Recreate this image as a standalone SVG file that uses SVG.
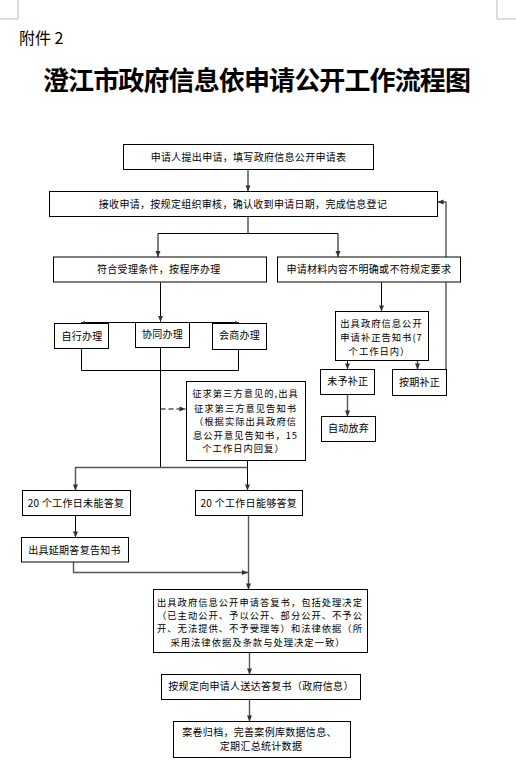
<svg xmlns="http://www.w3.org/2000/svg" width="516" height="771" viewBox="0 0 516 771">
<style>
.box{fill:#fff;stroke:#000;stroke-width:1}
.t{font-family:"Noto Sans CJK SC","Liberation Sans",sans-serif;font-size:10px;fill:#000;text-anchor:middle;letter-spacing:0.3px}
.m{font-size:9.3px;letter-spacing:1px}
.c{fill:none;stroke:#000;stroke-width:1}
.g{fill:none;stroke:#555;stroke-width:1.4}
</style>
<defs>
<marker id="a" markerUnits="userSpaceOnUse" markerWidth="8" markerHeight="8" viewBox="0 0 8 8" refX="7" refY="4" orient="auto"><path d="M1,1.5 L7,4 L1,6.5 Z" fill="#333"/></marker>
<marker id="s" markerUnits="userSpaceOnUse" markerWidth="5" markerHeight="5" viewBox="0 0 5 5" refX="4.5" refY="2.5" orient="auto"><path d="M0.5,1 L4.5,2.5 L0.5,4 Z" fill="#333"/></marker>
</defs>
<rect width="516" height="771" fill="#fff"/>
<path d="M18,0 V19 H0 M497,0 V19 H516" fill="none" stroke="#bbb" stroke-width="1"/>
<text x="19" y="43.5" style="font-family:'Noto Sans CJK SC',sans-serif;font-size:16px">附件 2</text>
<text x="43" y="90" textLength="428" lengthAdjust="spacing" style="font-family:'Noto Sans CJK SC',sans-serif;font-size:26px;font-weight:bold">澄江市政府信息依申请公开工作流程图</text>

<g id="connectors">
<path class="c" d="M248,169.5 V191.5" marker-end="url(#a)"/>
<path class="c" d="M248,216.5 V233.5"/>
<path class="c" d="M248,233.5 H158 V257" marker-end="url(#a)"/>
<path class="c" d="M248,233.5 H338 V257" marker-end="url(#a)"/>
<path class="g" d="M446,369.5 V202 H437.5" marker-end="url(#a)"/>
<path class="c" d="M160.5,282.5 V322" marker-end="url(#a)"/>
<path class="c" d="M160.5,322.5 H81" marker-end="url(#s)"/>
<path class="c" d="M160.5,322.5 H239" marker-end="url(#s)"/>
<path class="c" d="M81.5,349 V370.5 H238.5 V350"/>
<path class="c" d="M160.5,347.5 V467.5"/>
<path class="c" d="M160.5,409 H185.5" stroke-dasharray="5,3" marker-end="url(#a)"/>
<path class="g" d="M160.5,467.5 H75.5 V490.5" marker-end="url(#a)"/>
<path class="g" d="M160.5,467.5 H248"/>
<path class="c" d="M247.5,460.5 V490.5" marker-end="url(#a)"/>
<path class="c" d="M381.5,282.5 V311.5" marker-end="url(#a)"/>
<path class="c" d="M347.5,347 V369.5" marker-end="url(#a)"/>
<path class="g" d="M417.5,347 V369.5" marker-end="url(#a)"/>
<path class="g" d="M347.5,394.5 V416.5" marker-end="url(#a)"/>
<path class="c" d="M75.5,515.5 V537.5" marker-end="url(#a)"/>
<path class="g" d="M73.5,562 V572.5 H248" marker-end="url(#a)"/>
<path class="g" d="M248.5,515.5 V589.5" marker-end="url(#a)"/>
<path class="g" d="M249.5,652.5 V674.5" marker-end="url(#a)"/>
<path class="g" d="M249.5,699.5 V721.5" marker-end="url(#a)"/>
</g>

<g id="n1"><rect class="box" x="123.5" y="144.5" width="250" height="25"/><text class="t" x="248.5" y="160.5">申请人提出申请，填写政府信息公开申请表</text></g>
<g id="n2"><rect class="box" x="49.5" y="191.5" width="388" height="25"/><text class="t" x="243" y="207.5" letter-spacing="0.65">接收申请，按规定组织审核，确认收到申请日期，完成信息登记</text></g>
<g id="n3"><rect class="box" x="53.5" y="257" width="213" height="25"/><text class="t" x="158.8" y="273">符合受理条件，按程序办理</text></g>
<g id="n4"><rect class="box" x="277.5" y="257" width="183" height="25"/><text class="t" x="368.8" y="273">申请材料内容不明确或不符规定要求</text></g>
<g id="n5"><rect class="box" x="54.5" y="323.5" width="54" height="25"/><text class="t" x="82" y="339.5">自行办理</text></g>
<g id="n6"><rect class="box" x="135.5" y="322.5" width="54" height="25"/><text class="t" x="162.5" y="337.5">协同办理</text></g>
<g id="n7"><rect class="box" x="212.5" y="323.5" width="54" height="26"/><text class="t" x="239.5" y="339">会商办理</text></g>
<g id="n8"><rect class="box" x="186.5" y="381.5" width="119" height="79"/>
<text class="t m" x="245.5" y="397.4">征求第三方意见的,出具</text>
<text class="t m" x="245.5" y="411.7">征求第三方意见告知书</text>
<text class="t m" x="245.5" y="425.1">（根据实际出具政府信</text>
<text class="t m" x="245.5" y="438.7">息公开意见告知书，15</text>
<text class="t m" x="243.5" y="452.1">个工作日内回复）</text></g>
<g id="n9"><rect class="box" x="335.5" y="311.5" width="93" height="49"/>
<text class="t m" x="381.5" y="326.8">出具政府信息公开</text>
<text class="t m" x="381.5" y="341.1">申请补正告知书(7</text>
<text class="t m" x="379.5" y="355.1">个工作日内）</text></g>
<g id="n10"><rect class="box" x="320.5" y="369.5" width="54" height="25"/><text class="t" x="347.8" y="385">未予补正</text></g>
<g id="n11"><rect class="box" x="392.5" y="369.5" width="54" height="26"/><text class="t" x="419.5" y="385.5">按期补正</text></g>
<g id="n12"><rect class="box" x="321.5" y="416.5" width="54" height="25"/><text class="t" x="348.5" y="432">自动放弃</text></g>
<g id="n13"><rect class="box" x="22.5" y="490.5" width="108" height="25"/><text class="t" x="76" y="506.5">20 个工作日未能答复</text></g>
<g id="n14"><rect class="box" x="195.5" y="490.5" width="107" height="25"/><text class="t" x="248.8" y="506.5">20 个工作日能够答复</text></g>
<g id="n15"><rect class="box" x="21.5" y="537.5" width="107" height="24.5"/><text class="t" x="74.5" y="553.5">出具延期答复告知书</text></g>
<g id="n16"><rect class="box" x="153.5" y="589.5" width="214" height="63"/>
<text class="t m" x="260" y="605.8">出具政府信息公开申请答复书，包括处理决定</text>
<text class="t m" x="260" y="618.5">（已主动公开、予以公开、部分公开、不予公</text>
<text class="t m" x="260" y="632.4">开、无法提供、不予受理等）和法律依据（所</text>
<text class="t m" x="258" y="646.1">采用法律依据及条款与处理决定一致）</text></g>
<g id="n17"><rect class="box" x="161.5" y="674.5" width="199" height="25"/><text class="t" x="261" y="689.7">按规定向申请人送达答复书（政府信息）</text></g>
<g id="n18"><rect class="box" x="173.5" y="721.5" width="177" height="36"/>
<text class="t" x="259.5" y="736">案卷归档，完善案例库数据信息、</text>
<text class="t" x="261" y="750.4">定期汇总统计数据</text></g>
</svg>
